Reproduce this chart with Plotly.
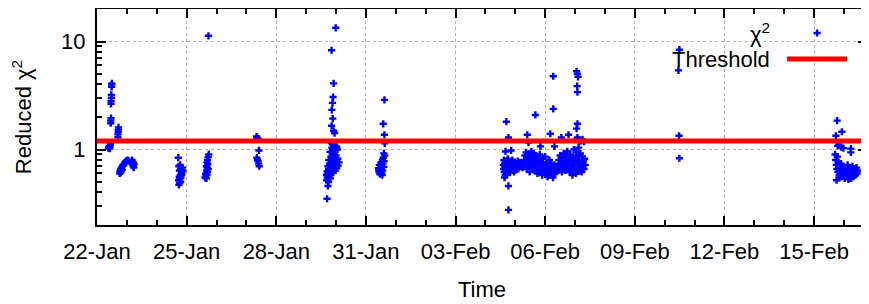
import pandas as pd
import plotly.graph_objects as go

START = "2015-01-22"
X_END_DAYS = 25.77
THRESHOLD = 1.2

# ---- data: days since 22-Jan 00:00 and reduced chi^2 values ----
days_a = [0.38, 0.39, 0.40, 0.41, 0.42, 0.43, 0.44, 0.45,
          0.46, 0.46, 0.47, 0.47, 0.47, 0.48, 0.48, 0.49, 0.49, 0.50,
          0.70, 0.70, 0.71, 0.71, 0.72,
          0.76, 0.77, 0.78, 0.79, 0.80, 0.81, 0.82, 0.84, 0.85, 0.87, 0.89, 0.91, 0.94, 0.97, 1.00, 1.03, 1.06,
          1.17, 1.18, 1.19, 1.20, 1.21, 1.22, 1.23, 1.24]
chi_a = [1.03, 1.05, 1.07, 1.04, 1.06, 1.02, 1.08, 1.12,
         1.75, 1.85, 1.95, 2.65, 2.8, 3.0, 3.2, 3.8, 4.0, 4.1,
         1.30, 1.38, 1.45, 1.52, 1.60,
         0.60, 0.62, 0.64, 0.61, 0.66, 0.63, 0.68, 0.65, 0.70, 0.72, 0.71, 0.74, 0.76, 0.78, 0.79, 0.80, 0.78,
         0.80, 0.77, 0.74, 0.72, 0.70, 0.76, 0.68, 0.73]

days_b = [2.72, 2.74, 2.78, 2.80, 2.76, 2.82, 2.84, 2.79, 2.75, 2.81, 2.77, 2.73, 2.80, 2.76, 2.74, 2.86, 2.88, 2.83]
chi_b = [0.84, 0.70, 0.72, 0.66, 0.64, 0.62, 0.60, 0.58, 0.56, 0.55, 0.53, 0.52, 0.50, 0.49, 0.47, 0.68, 0.64, 0.58]

days_c = [3.73, 3.74, 3.72, 3.70, 3.68, 3.71, 3.66, 3.69, 3.72, 3.67, 3.70, 3.65, 3.68, 3.63, 3.66, 3.62, 3.64]
chi_c = [11.3, 0.90, 0.85, 0.80, 0.76, 0.73, 0.70, 0.68, 0.66, 0.64, 0.62, 0.60, 0.58, 0.56, 0.54, 0.55, 0.59]

days_d = [5.34, 5.36, 5.40, 5.42, 5.35, 5.37, 5.39, 5.41, 5.43]
chi_d = [1.32, 1.28, 1.25, 0.98, 0.84, 0.80, 0.78, 0.74, 0.70]

days_e = [7.99, 7.85, 7.92, 7.90, 7.88, 7.86, 7.89, 7.85, 7.92, 7.95,
          7.84, 7.88, 7.93, 7.97, 8.02, 7.86, 7.95, 8.05, 7.90,
          7.80, 7.87, 7.94, 8.00, 7.83, 7.91, 7.98, 8.06, 7.76, 7.85, 7.96, 8.03, 8.10, 7.78, 7.88, 7.99,
          8.07, 7.73, 7.82, 7.93, 8.02, 7.75, 7.86, 7.97, 7.70, 7.80, 7.90, 7.72, 7.83, 7.68, 7.77, 7.71,
          7.81, 7.69, 7.75, 7.73, 7.70]
chi_e = [13.4, 8.3, 4.1, 3.06, 2.70, 2.33, 1.93, 1.66, 1.49, 1.42,
         1.15, 1.12, 1.10, 1.08, 1.06, 1.04, 1.02, 1.00, 0.98,
         0.95, 0.92, 0.90, 0.88, 0.86, 0.85, 0.84, 0.82, 0.80, 0.79, 0.78, 0.77, 0.76, 0.74, 0.73, 0.72,
         0.71, 0.70, 0.69, 0.68, 0.67, 0.66, 0.65, 0.64, 0.63, 0.62, 0.61, 0.60, 0.59, 0.58, 0.57, 0.55,
         0.54, 0.52, 0.50, 0.46, 0.35]

days_f = [9.62, 9.58, 9.62, 9.63, 9.60, 9.63, 9.58, 9.55, 9.61, 9.50, 9.57, 9.45, 9.53, 9.60, 9.42,
          9.49, 9.56, 9.44, 9.52, 9.47, 9.55, 9.43]
chi_f = [2.88, 1.73, 1.37, 1.14, 0.92, 0.88, 0.84, 0.80, 0.78, 0.76, 0.74, 0.72, 0.70, 0.69, 0.67,
         0.66, 0.64, 0.62, 0.61, 0.59, 0.58, 0.64]

days_g = [13.60, 13.61, 13.62, 13.63, 13.64, 13.65, 13.66, 13.67, 13.68, 13.70, 13.71, 13.72, 13.74,
          13.75, 13.76, 13.78, 13.79, 13.80, 13.82, 13.83, 13.85, 13.86, 13.88, 13.90, 13.92, 13.94,
          13.96, 13.98, 14.00, 14.02, 14.04, 14.06, 14.08, 14.10, 14.12, 14.15, 14.18, 14.21, 14.24,
          13.70, 13.77, 13.67, 13.86, 13.64, 13.77, 13.77,
          14.30, 14.32, 14.34, 14.36, 14.38, 14.40, 14.42, 14.44, 14.46, 14.48, 14.50, 14.52, 14.54,
          14.56, 14.58, 14.60, 14.62, 14.64, 14.66, 14.68, 14.70, 14.72, 14.74, 14.76, 14.78, 14.80,
          14.82, 14.84, 14.86, 14.88, 14.90, 14.92, 14.94, 14.96, 14.98, 15.00, 15.02, 15.04, 15.06,
          15.08, 15.10, 15.12, 15.14, 15.16, 15.18, 15.20, 15.22, 15.24, 15.26, 15.28, 15.30, 15.32,
          15.34, 15.36, 15.38,
          14.67, 14.40, 14.44, 14.84, 15.27, 15.27, 15.17, 15.31,
          15.42, 15.44, 15.46, 15.48, 15.50, 15.52, 15.54, 15.56, 15.58, 15.60, 15.62, 15.64, 15.66,
          15.68, 15.70, 15.72, 15.74, 15.76, 15.78, 15.80, 15.82, 15.84, 15.86, 15.88, 15.90, 15.92,
          15.94, 15.96, 15.98, 16.00, 16.02, 16.04, 16.06, 16.08, 16.10, 16.12, 16.14, 16.16, 16.18,
          16.20, 16.22, 16.24, 16.26, 16.28, 16.30, 16.32, 16.34, 16.03, 15.91, 16.15,
          15.54, 15.78, 16.05, 16.08, 16.10, 16.07, 16.08, 16.08, 16.05, 16.08, 16.06, 16.12, 16.20,
          16.25, 16.30]
chi_g = [0.72, 0.66, 0.80, 0.62, 0.70, 0.75, 0.58, 0.68, 0.64, 0.78, 0.60, 0.72, 0.67,
         0.82, 0.63, 0.70, 0.74, 0.65, 0.61, 0.77, 0.69, 0.73, 0.64, 0.80, 0.67, 0.71,
         0.62, 0.76, 0.69, 0.65, 0.74, 0.70, 0.78, 0.66, 0.72, 0.76, 0.70, 0.74, 0.68,
         1.81, 1.29, 0.96, 0.98, 0.55, 0.46, 0.276,
         0.80, 0.88, 0.72, 0.94, 0.66, 0.84, 0.76, 0.90, 0.70, 0.62, 0.86, 0.78, 0.96,
         0.68, 0.82, 0.74, 0.92, 0.64, 0.80, 0.88, 0.70, 0.76, 0.60, 0.84, 0.72, 0.66,
         0.90, 0.78, 0.62, 0.74, 0.58, 0.82, 0.68, 0.72, 0.64, 0.86, 0.60, 0.76, 0.66,
         0.56, 0.70, 0.62, 0.80, 0.58, 0.66, 0.74, 0.60, 0.68, 0.55, 0.64, 0.72, 0.60,
         0.66, 0.70, 0.62,
         2.09, 1.37, 1.16, 1.07, 4.77, 2.38, 1.40, 1.07,
         0.70, 0.64, 0.80, 0.74, 0.88, 0.66, 0.76, 0.62, 0.84, 0.70, 0.92, 0.68, 0.78,
         0.64, 0.86, 0.72, 0.96, 0.66, 0.80, 0.74, 0.62, 0.90, 0.70, 0.78, 0.66, 0.84,
         0.72, 1.00, 0.68, 0.82, 0.76, 0.94, 0.64, 0.88, 0.72, 1.04, 0.80, 0.68, 0.92,
         0.74, 0.62, 0.86, 0.70, 0.78, 0.66, 0.82, 0.72, 0.60, 0.58, 0.63,
         1.29, 1.37, 5.3, 5.0, 4.7, 3.86, 3.40, 1.73, 1.56, 1.29, 1.25, 1.22, 1.20,
         1.24, 1.18]

days_h = [19.49, 19.46, 19.48, 19.49]
chi_h = [8.4, 5.4, 1.34, 0.83]

days_i = [24.70, 24.72, 24.74, 24.76, 24.78, 24.80, 24.82, 24.84, 24.86, 24.88, 24.90, 24.92, 24.94,
          24.96, 24.98, 25.00, 25.02, 25.04, 25.06, 25.08, 25.10, 25.12, 25.14, 25.16, 25.18, 25.20,
          25.22, 25.24, 25.26, 25.28, 25.30, 25.32, 25.34, 25.36, 25.38, 25.40, 25.42, 25.44, 25.46,
          24.75, 24.85, 25.15,
          24.77, 24.93, 24.73, 24.83, 24.90, 25.23, 25.23, 24.79, 24.98]
chi_i = [0.90, 0.80, 0.72, 0.66, 0.86, 0.62, 0.76, 0.58, 0.68, 0.64, 0.74, 0.56, 0.70,
         0.60, 0.66, 0.62, 0.54, 0.68, 0.58, 0.64, 0.60, 0.72, 0.56, 0.62, 0.66, 0.58,
         0.60, 0.54, 0.64, 0.70, 0.60, 0.56, 0.62, 0.66, 0.58, 0.62, 0.68, 0.60, 0.64,
         0.52, 0.55, 0.53,
         1.85, 1.46, 1.34, 1.11, 1.05, 1.02, 0.94, 1.08, 1.03]

y_major_ticks = [1, 10]
y_minor_ticks = [0.2, 0.3, 0.4, 0.5, 0.6, 0.7, 0.8, 0.9, 2, 3, 4, 5, 6, 7, 8, 9, 20]

# ---- assemble ----
all_days = days_a + days_b + days_c + days_d + days_e + days_f + days_g + days_h + days_i
all_chi = chi_a + chi_b + chi_c + chi_d + chi_e + chi_f + chi_g + chi_h + chi_i
start = pd.Timestamp(START)
times = [start + pd.Timedelta(days=d) for d in all_days]
x_end = start + pd.Timedelta(days=X_END_DAYS)

FONT = "Liberation Sans, Arial, sans-serif"
fig = go.Figure()
fig.add_trace(go.Scatter(x=times, y=all_chi, mode="markers",
                         marker=dict(symbol="cross", size=6, color="#0000ff", line=dict(width=0)),
                         showlegend=False))
fig.add_trace(go.Scatter(x=[start, x_end], y=[THRESHOLD, THRESHOLD], mode="lines",
                         line=dict(color="#ff0000", width=5), showlegend=False))

# manual gnuplot-style key (text left, sample right) on hidden overlay axes
fig.add_trace(go.Scatter(x=[0.9352], y=[0.889], xaxis="x2", yaxis="y2", mode="markers",
                         marker=dict(symbol="cross", size=6, color="#0000ff"), showlegend=False))
fig.add_trace(go.Scatter(x=[0.8962, 0.9741], y=[0.7685, 0.7685], xaxis="x2", yaxis="y2", mode="lines",
                         line=dict(color="#ff0000", width=5), showlegend=False))
fig.add_annotation(x=0.8768, y=0.889, xref="paper", yref="paper", text="χ<sup>2</sup>",
                   showarrow=False, xanchor="right", yanchor="middle", font=dict(size=22, color="black"))
fig.add_annotation(x=0.8768, y=0.7685, xref="paper", yref="paper", text="Threshold",
                   showarrow=False, xanchor="right", yanchor="middle", font=dict(size=22, color="black"))

axis_common = dict(showline=True, linecolor="black", linewidth=2, mirror="allticks",
                   ticks="inside", tickcolor="black", tickwidth=1.5, ticklen=9,
                   showgrid=True, gridcolor="#b0b0b0", griddash="dot", gridwidth=1,
                   zeroline=False, automargin=False, tickfont=dict(size=22, color="black"))

# the page body has an 8px default margin, so the figure is sized to fit inside it
fig.update_layout(
    width=861, height=296,
    margin=dict(l=89, r=2, t=1, b=79),
    paper_bgcolor="white", plot_bgcolor="white",
    font=dict(family=FONT, size=22, color="black"),
    xaxis=dict(type="date", range=[start, x_end], tick0=START, dtick=3 * 86400000,
               tickformat="%d-%b", ticklabelstandoff=6,
               minor=dict(dtick=86400000, tick0=START, ticks="inside", ticklen=5,
                          tickcolor="black", tickwidth=1.5, showgrid=False),
               title=dict(text="Time", standoff=18, font=dict(size=22)),
               **axis_common),
    yaxis=dict(type="log", range=[-0.69897, 1.30103], tickmode="array",
               tickvals=y_major_ticks, ticktext=["1", "10"], ticklabelstandoff=5,
               minor=dict(tickmode="array", tickvals=y_minor_ticks, ticks="inside", ticklen=5,
                          tickcolor="black", tickwidth=1.5, showgrid=False),
               title=dict(text="Reduced χ<sup>2</sup>", standoff=25, font=dict(size=22)),
               **axis_common),
    xaxis2=dict(overlaying="x", range=[0, 1], visible=False),
    yaxis2=dict(overlaying="y", range=[0, 1], visible=False),
)

fig.write_html("out.html")
